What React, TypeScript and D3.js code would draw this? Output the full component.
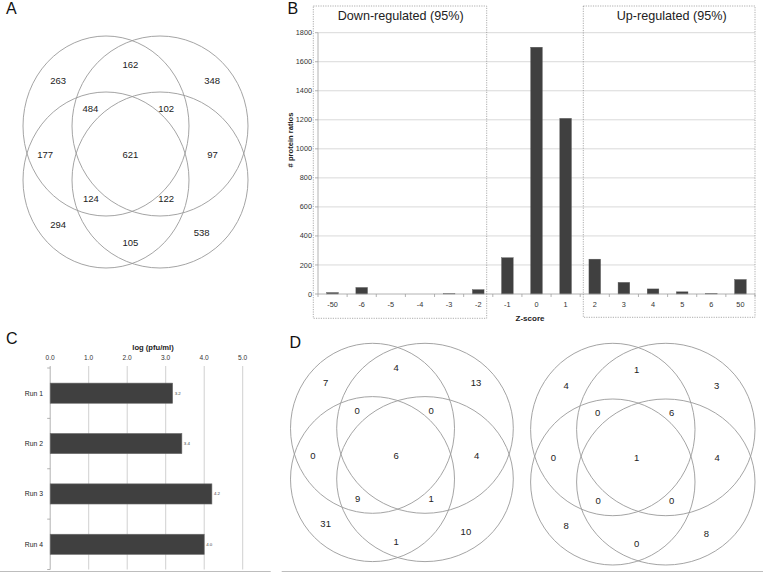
import React from "react";
import * as d3 from "d3";

// ---------- DATA ----------
const zCategories = ["-50", "-6", "-5", "-4", "-3", "-2", "-1", "0", "1", "2", "3", "4", "5", "6", "50"];
const zCounts = [10, 45, 0, 0, 2, 30, 250, 1700, 1210, 240, 80, 35, 15, 3, 100];
const zTicks = [0, 200, 400, 600, 800, 1000, 1200, 1400, 1600, 1800];

const runs = ["Run 1", "Run 2", "Run 3", "Run 4"];
const runValues = [3.18, 3.42, 4.2, 4.0];
const runLabels = ["3.2", "3.4", "4.2", "4.0"];
const pfuTicks = [0, 1, 2, 3, 4, 5];

// Venn region counts, in order:
// top, upper-left outer, upper-right outer, upper-left inner, upper-right inner,
// left, centre, right, lower-left inner, lower-right inner, lower-left outer, lower-right outer, bottom
const vennA = [162, 263, 348, 484, 102, 177, 621, 97, 124, 122, 294, 538, 105];
const vennD1 = [4, 7, 13, 0, 0, 0, 6, 4, 9, 1, 31, 10, 1];
const vennD2 = [1, 4, 3, 0, 6, 0, 1, 4, 0, 0, 8, 8, 0];

// ---------- LAYOUT ----------
const FONT = "'Liberation Sans', Arial, sans-serif";
// normalized label anchor offsets (in units of the venn radius)
const regionAnchors: [number, number][] = [
  [-0.03, -1.01], [-0.86, -0.83], [0.91, -0.83], [-0.49, -0.51], [0.38, -0.51],
  [-1.01, 0.02], [-0.03, 0.02], [0.915, 0.02], [-0.485, 0.53], [0.38, 0.53],
  [-0.86, 0.82], [0.79, 0.92], [-0.03, 1.03],
];

type VennCfg = {
  cx: number; cy: number; unit: number;
  dx: number; dy: number;
  rxL: number; rxR: number; ryT: number; ryB: number;
  counts: number[];
};

const vennConfigs: VennCfg[] = [
  { cx: 133, cy: 153, unit: 87, dx: 27, dy: 27, rxL: 83, rxR: 88, ryT: 90, ryB: 88, counts: vennA },
  { cx: 398.75, cy: 453.7, unit: 85, dx: 26.25, dy: 25.4, rxL: 82, rxR: 88.3, ryT: 85, ryB: 82.5, counts: vennD1 },
  { cx: 639.3, cy: 455.75, unit: 85, dx: 26.5, dy: 26.25, rxL: 82.2, rxR: 89.2, ryT: 86.2, ryB: 83, counts: vennD2 },
];

function Venn({ cfg }: { cfg: VennCfg }) {
  const sx = d3.scaleLinear().domain([-1, 1]).range([cfg.cx - cfg.unit, cfg.cx + cfg.unit]);
  const sy = d3.scaleLinear().domain([-1, 1]).range([cfg.cy - cfg.unit, cfg.cy + cfg.unit]);
  const ellipses = [
    { x: cfg.cx - cfg.dx, y: cfg.cy - cfg.dy, rx: cfg.rxL, ry: cfg.ryT },
    { x: cfg.cx + cfg.dx, y: cfg.cy - cfg.dy, rx: cfg.rxR, ry: cfg.ryT },
    { x: cfg.cx - cfg.dx, y: cfg.cy + cfg.dy, rx: cfg.rxL, ry: cfg.ryB },
    { x: cfg.cx + cfg.dx, y: cfg.cy + cfg.dy, rx: cfg.rxR, ry: cfg.ryB },
  ];
  return (
    <g>
      {ellipses.map((e, i) => (
        <ellipse key={i} cx={e.x} cy={e.y} rx={e.rx} ry={e.ry} fill="none" stroke="#9a9a9a" strokeWidth={0.9} />
      ))}
      {cfg.counts.map((c, i) => (
        <text key={i} x={sx(regionAnchors[i][0])} y={sy(regionAnchors[i][1])} dy="0.35em"
          textAnchor="middle" fontSize={9.5} fill="#222" fontFamily={FONT}>{c}</text>
      ))}
    </g>
  );
}

function PanelB() {
  const left = 318, right = 755, top = 32.7, bottom = 294;
  const x = d3.scaleBand<string>().domain(zCategories).range([left, right]).paddingInner(0.6).paddingOuter(0.3);
  const y = d3.scaleLinear().domain([0, 1800]).range([bottom, top]);
  const step = x.step();
  const boundaries = d3.range(zCategories.length + 1).map((i) => left + i * step);
  return (
    <g fontFamily={FONT}>
      {zTicks.slice(1).map((t) => (
        <line key={t} x1={left} x2={right} y1={y(t)} y2={y(t)} stroke="#d9d9d9" strokeWidth={1} />
      ))}
      <line x1={left} x2={left} y1={top} y2={bottom} stroke="#a0a0a0" strokeWidth={0.8} />
      {zTicks.map((t) => (
        <g key={t}>
          <line x1={left - 3} x2={left} y1={y(t)} y2={y(t)} stroke="#a0a0a0" strokeWidth={0.8} />
          <text x={left - 6} y={y(t)} dy="0.35em" textAnchor="end" fontSize={7.3} fill="#333">{t}</text>
        </g>
      ))}
      {zCategories.map((c, i) => (
        <rect key={c} x={x(c)} y={y(zCounts[i])} width={x.bandwidth()} height={bottom - y(zCounts[i])}
          fill="#404040" stroke="#5a5a5a" strokeWidth={0.4} />
      ))}
      <line x1={left} x2={right} y1={bottom} y2={bottom} stroke="#a0a0a0" strokeWidth={0.8} />
      {boundaries.map((b, i) => (
        <line key={i} x1={b} x2={b} y1={bottom} y2={bottom + 3} stroke="#a0a0a0" strokeWidth={0.8} />
      ))}
      {zCategories.map((c) => (
        <text key={c} x={(x(c) as number) + x.bandwidth() / 2} y={304} dy="0.35em" textAnchor="middle"
          fontSize={7.3} fill="#333">{c}</text>
      ))}
      <text x={530} y={321} textAnchor="middle" fontSize={8} fontWeight="bold" fill="#222">Z-score</text>
      <text transform="translate(292.5,140) rotate(-90)" textAnchor="middle" fontSize={7.6} fontWeight="bold" fill="#222">
        # protein ratios
      </text>
      <rect x={313.3} y={6} width={173.4} height={312.3} fill="none" stroke="#8a8a8a" strokeWidth={0.7} strokeDasharray="1.2,1.2" />
      <rect x={583.3} y={6} width={171.7} height={311.3} fill="none" stroke="#8a8a8a" strokeWidth={0.7} strokeDasharray="1.2,1.2" />
      <text x={400.7} y={19.5} textAnchor="middle" fontSize={12.6} fill="#222">Down-regulated (95%)</text>
      <text x={671.7} y={19.5} textAnchor="middle" fontSize={12.6} fill="#222">Up-regulated (95%)</text>
    </g>
  );
}

function PanelC() {
  const left = 50.2, right = 242.7, top = 368, bottom = 569.5;
  const x = d3.scaleLinear().domain([0, 5]).range([left, right]);
  const y = d3.scaleBand<string>().domain(runs).range([top, bottom]).paddingInner(0.6).paddingOuter(0.3);
  const step = y.step();
  const boundaries = d3.range(runs.length + 1).map((i) => top + i * step);
  return (
    <g fontFamily={FONT}>
      {pfuTicks.slice(1).map((t) => (
        <line key={t} x1={x(t)} x2={x(t)} y1={366} y2={bottom} stroke="#d0d0d0" strokeWidth={1} />
      ))}
      <line x1={left} x2={left} y1={366} y2={bottom} stroke="#a0a0a0" strokeWidth={0.8} />
      {boundaries.map((b, i) => (
        <line key={i} x1={left - 3} x2={left} y1={b} y2={b} stroke="#a0a0a0" strokeWidth={0.8} />
      ))}
      {pfuTicks.map((t) => (
        <text key={t} x={x(t)} y={357.5} dy="0.35em" textAnchor="middle" fontSize={6.6} fill="#333">{t.toFixed(1)}</text>
      ))}
      <text x={153} y={350} textAnchor="middle" fontSize={7.6} fontWeight="bold" fill="#222">log (pfu/ml)</text>
      {runs.map((r, i) => {
        const yy = y(r) as number;
        return (
          <g key={r}>
            <rect x={left} y={yy} width={x(runValues[i]) - left} height={y.bandwidth()} fill="#404040" stroke="#6a6a6a" strokeWidth={0.6} />
            <text x={x(runValues[i]) + 2} y={yy + y.bandwidth() / 2} dy="0.35em" fontSize={4.4} fill="#444">{runLabels[i]}</text>
            <text x={43} y={yy + y.bandwidth() / 2} dy="0.35em" textAnchor="end" fontSize={6.8} fill="#222">{r}</text>
          </g>
        );
      })}
    </g>
  );
}

export default function App() {
  return (
    <svg width={763} height={573} viewBox="0 0 763 573"
      style={{ position: "absolute", left: 0, top: 0, background: "#fff" }}>
      <rect x={0} y={0} width={763} height={573} fill="#fff" />
      <g fontFamily={FONT} fill="#111" fontSize={16}>
        <text x={6} y={13.5}>A</text>
        <text x={287.5} y={13.5}>B</text>
        <text x={6} y={343.5}>C</text>
        <text x={289.5} y={348}>D</text>
      </g>
      {vennConfigs.map((cfg, i) => <Venn key={i} cfg={cfg} />)}
      <PanelB />
      <PanelC />
      <line x1={0} x2={270.7} y1={571.5} y2={571.5} stroke="#bdbdbd" strokeWidth={1.2} />
      <line x1={281.7} x2={763} y1={571.5} y2={571.5} stroke="#bdbdbd" strokeWidth={1.2} />
    </svg>
  );
}
